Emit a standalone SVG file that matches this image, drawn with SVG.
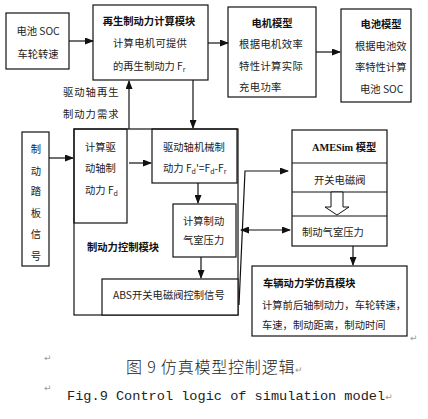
<svg xmlns="http://www.w3.org/2000/svg" width="428" height="419" viewBox="0 0 428 419">
<style>
.box{fill:none;stroke:#111;stroke-width:1.2}
.wbox{fill:#fff;stroke:#111;stroke-width:1.2}
.ln{fill:none;stroke:#111;stroke-width:1.2}
.t{font-family:"Noto Sans CJK SC","Liberation Sans",sans-serif;font-size:10.3px;fill:#222}
.b{font-family:"Liberation Serif","Noto Sans CJK SC",serif;font-size:10.3px;font-weight:bold;fill:#111}
.s{font-size:7px}
.m{text-anchor:middle}
.ret{font-family:"DejaVu Sans",sans-serif;font-size:9px;fill:#999}
</style>
<defs>
<marker id="ah" markerWidth="9" markerHeight="7" refX="8" refY="3.5" orient="auto" markerUnits="userSpaceOnUse">
<path d="M0,0 L9,3.5 L0,7 z" fill="#111"/>
</marker>
<marker id="as" markerWidth="9" markerHeight="7" refX="1" refY="3.5" orient="auto" markerUnits="userSpaceOnUse">
<path d="M9,0 L0,3.5 L9,7 z" fill="#111"/>
</marker>
</defs>
<rect width="428" height="419" fill="#fff"/>

<g id="connectors">
<line class="ln" x1="69" y1="41" x2="93" y2="41" marker-end="url(#ah)"/>
<line class="ln" x1="208" y1="43" x2="228" y2="43" marker-end="url(#ah)"/>
<line class="ln" x1="316" y1="52" x2="340" y2="52" marker-end="url(#ah)"/>
<line class="ln" x1="129" y1="129" x2="129" y2="81" marker-end="url(#ah)"/>
<line class="ln" x1="193" y1="80" x2="193" y2="128" marker-end="url(#ah)"/>
<line class="ln" x1="49" y1="158" x2="73" y2="158" marker-end="url(#ah)"/>
<line class="ln" x1="129" y1="163" x2="151" y2="163" marker-end="url(#ah)"/>
<line class="ln" x1="198" y1="183" x2="198" y2="203" marker-end="url(#ah)"/>
<line class="ln" x1="201" y1="257" x2="201" y2="278" marker-end="url(#ah)"/>
<polyline class="ln" points="239,305 245,171 288,171" marker-end="url(#ah)"/>
<line class="ln" x1="241" y1="230" x2="290" y2="230" marker-start="url(#as)" marker-end="url(#ah)"/>
<line class="ln" x1="353" y1="246" x2="353" y2="265" marker-end="url(#ah)"/>
</g>

<g id="input">
<rect class="box" x="6" y="13" width="63" height="56"/>
<text class="t m" x="38" y="35">电池 SOC</text>
<text class="t m" x="38" y="58">车轮转速</text>
</g>

<g id="regen">
<rect class="box" x="93" y="5" width="115" height="75"/>
<text class="b m" x="149" y="25">再生制动力计算模块</text>
<text class="t" x="113" y="47" letter-spacing="0.3">计算电机可提供</text>
<text class="t" x="113" y="70">的再生制动力 F<tspan class="s" dy="2">r</tspan></text>
</g>

<g id="regen-demand">
<text class="t" x="63" y="96" letter-spacing="1">驱动轴再生</text>
<text class="t" x="63" y="118" letter-spacing="1">制动力需求</text>
</g>

<g id="motor">
<rect class="box" x="228" y="7" width="88" height="90"/>
<text class="b m" x="272" y="27">电机模型</text>
<text class="t" x="239" y="48" letter-spacing="0.4">根据电机效率</text>
<text class="t" x="239" y="70" letter-spacing="0.4">特性计算实际</text>
<text class="t" x="239" y="91" letter-spacing="0.4">充电功率</text>
</g>

<g id="battery">
<rect class="box" x="341" y="9" width="70" height="93"/>
<text class="b m" x="381" y="28">电池模型</text>
<text class="t" x="355" y="50">根据电池效</text>
<text class="t" x="355" y="71">率特性计算</text>
<text class="t" x="360" y="93">电池 SOC</text>
</g>

<g id="pedal">
<rect class="box" x="22" y="132" width="27" height="134"/>
<text class="t m" x="36" y="153">制</text>
<text class="t m" x="36" y="175">动</text>
<text class="t m" x="36" y="195">踏</text>
<text class="t m" x="36" y="217">板</text>
<text class="t m" x="36" y="238">信</text>
<text class="t m" x="36" y="260">号</text>
</g>

<g id="control-module">
<rect class="box" x="74" y="129" width="164" height="186"/>
<text class="b" x="87" y="251">制动力控制模块</text>
</g>

<g id="calc-fd">
<rect class="box" x="74" y="129" width="53" height="94"/>
<text class="t" x="85" y="151">计算驱</text>
<text class="t" x="85" y="172">动轴制</text>
<text class="t" x="85" y="194">动力 F<tspan class="s" dy="2">d</tspan></text>
</g>

<g id="mech-brake">
<rect class="box" x="152" y="129" width="85" height="54"/>
<text class="t" x="163" y="151">驱动轴机械制</text>
<text class="t" x="163" y="172">动力 F<tspan class="s" dy="2">d</tspan><tspan dy="-2">'=F</tspan><tspan class="s" dy="2">d</tspan><tspan dy="-2">-F</tspan><tspan class="s" dy="2">r</tspan></text>
</g>

<g id="chamber-calc">
<rect class="box" x="173" y="204" width="63" height="53"/>
<text class="t" x="183" y="225">计算制动</text>
<text class="t" x="183" y="244">气室压力</text>
</g>

<g id="abs">
<rect class="wbox" x="102" y="279" width="136" height="36"/>
<text class="t" x="113" y="299" font-size="9.5">ABS开关电磁阀控制信号</text>
</g>

<g id="amesim">
<rect class="box" x="292" y="130" width="95" height="116"/>
<line class="ln" x1="292" y1="163" x2="387" y2="163"/>
<line class="ln" x1="292" y1="192" x2="387" y2="192"/>
<line class="ln" x1="292" y1="216" x2="387" y2="216"/>
<text class="b" x="312" y="151">AMESim 模型</text>
<text class="t" x="314" y="184">开关电磁阀</text>
<path d="M331,192 H343 V207 H349 L337,215 L325,207 H331 Z" fill="#fff" stroke="#111" stroke-width="1"/>
<text class="t" x="302" y="236">制动气室压力</text>
</g>

<g id="vehicle">
<rect class="box" x="252" y="266" width="155" height="70"/>
<text class="b" x="263" y="287">车辆动力学仿真模块</text>
<text class="t" x="262" y="309" font-size="9.8">计算前后轴制动力，车轮转速，</text>
<text class="t" x="262" y="329" font-size="9.8">车速，制动距离，制动时间</text>
</g>

<g id="caption">
<text class="ret" x="44" y="361">↵</text>
<text class="ret" x="410" y="341">↵</text>
<text x="126" y="373" font-family="Noto Sans CJK SC,sans-serif" font-size="16" font-weight="300" fill="#222" letter-spacing="0.8">图 9 仿真模型控制逻辑<tspan class="ret" letter-spacing="0">↵</tspan></text>
<text class="ret" x="44" y="391">↵</text>
<text x="67" y="400" font-family="Liberation Mono,monospace" font-size="13.6" fill="#222">Fig.9 Control logic of simulation model<tspan class="ret">↵</tspan></text>
</g>
</svg>
